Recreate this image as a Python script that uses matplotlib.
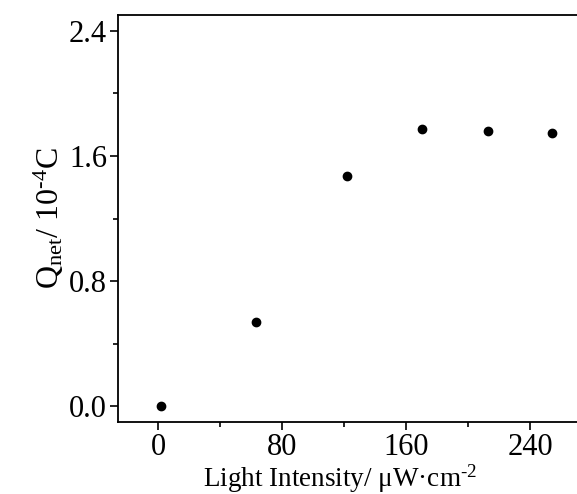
import matplotlib
matplotlib.use("Agg")
import matplotlib.pyplot as plt
from matplotlib.ticker import MultipleLocator

plt.rcParams['font.family'] = ['Liberation Serif', 'DejaVu Serif']
plt.rcParams['mathtext.default'] = 'regular'

# light intensity (uW/cm^2) vs net charge (1e-4 C)
intensity = [2, 63, 122, 170, 213, 254]
q_net = [0.0, 0.54, 1.47, 1.77, 1.76, 1.745]

fig = plt.figure(figsize=(5.77, 4.94), dpi=100)
# axes run past the right edge of the figure
ax = fig.add_axes([0.2045, 0.1457, 0.8215, 0.8239])

ax.plot(intensity, q_net, 'o', color='black', ms=6, mec='black')

ax.set_xlim(-26, 280)
ax.set_ylim(-0.1, 2.5)
ax.xaxis.set_major_locator(MultipleLocator(80))
ax.xaxis.set_minor_locator(MultipleLocator(40))
ax.yaxis.set_major_locator(MultipleLocator(0.8))
ax.yaxis.set_minor_locator(MultipleLocator(0.4))
ax.yaxis.set_major_formatter(plt.FormatStrFormatter('%.1f'))

ax.tick_params(which='both', direction='out', width=1.2, labelsize=22, colors='black')
ax.tick_params(which='major', length=6, pad=2)
ax.tick_params(which='minor', length=3.5)
for s in ax.spines.values():
    s.set_linewidth(1.3)

ax.set_xlabel('Light Intensity/ $\\mu$W\u00b7cm$^{\u20102}$', fontsize=19.5)
ax.xaxis.set_label_coords(0.468, -0.1)
ax.set_ylabel('Q$_{net}$/ 10$^{\u20104}$C', fontsize=23, labelpad=2)

fig.savefig('out.png', dpi=100)
